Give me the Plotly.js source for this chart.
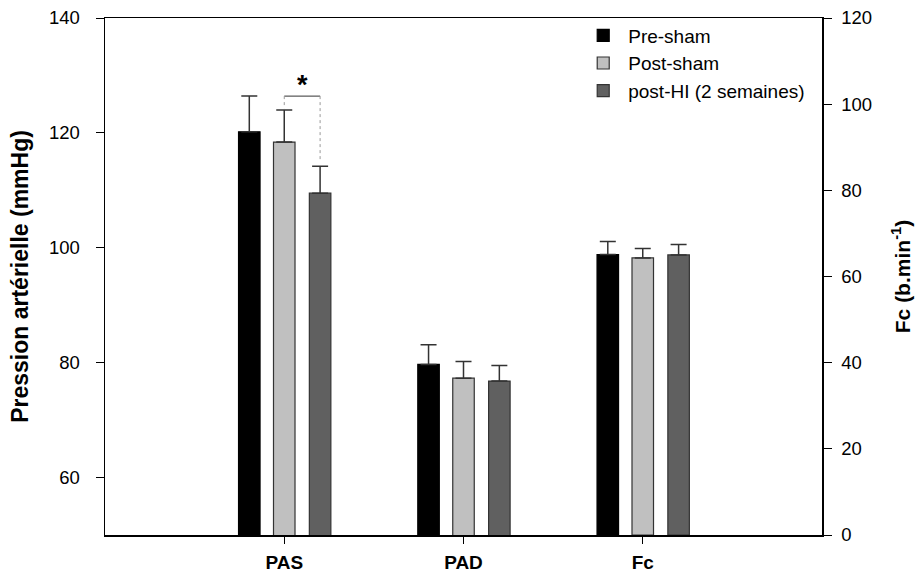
<!DOCTYPE html>
<html>
<head>
<meta charset="utf-8">
<script src="https://cdn.plot.ly/plotly-3.0.1.min.js"></script>
<style>html,body{margin:0;padding:0;background:#fff;}#chart{width:922px;height:579px;}</style>
</head>
<body>
<div id="chart"></div>
<script>
// ---- data ----
const categories = ['PAS', 'PAD', 'Fc'];
const groups = ['Pre-sham', 'Post-sham', 'post-HI (2 semaines)'];
const preSham = [120.2, 79.7, 65.1];
const preShamErr = [6.2, 3.4, 3.0];
const postSham = [118.4, 77.3, 64.3];
const postShamErr = [5.6, 2.9, 2.2];
const postHI = [109.5, 76.8, 65.0];
const postHIErr = [4.7, 2.7, 2.4];
// significance: between group 1 and 2 on category 0
const sigCategory = 0;
const sigGroups = [1, 2];
const sigLabel = '*';

// ---- styles ----
const colors = ['#000000', '#c0c0c0', '#606060'];
const lineColors = ['#000000', '#333333', '#333333'];
const barWidth = 0.12;
const offsets = [-0.255, -0.06, 0.14];
const values = [preSham, postSham, postHI];
const errors = [preShamErr, postShamErr, postHIErr];
const leftCats = [0, 1];   // on left axis
const rightCats = [2];     // on right axis

const traces = [];
groups.forEach((g, i) => {
  const common = {
    type: 'bar', name: g, legendgroup: g,
    width: barWidth, offset: offsets[i],
    marker: {color: colors[i], line: {color: lineColors[i], width: 1.2}},
    hoverinfo: 'x+y'
  };
  traces.push(Object.assign({}, common, {
    x: leftCats.map(k => categories[k]),
    y: leftCats.map(k => values[i][k]),
    error_y: {type: 'data', symmetric: false, array: leftCats.map(k => errors[i][k]),
      arrayminus: leftCats.map(() => 0), color: '#333', thickness: 1.5, width: 8},
    yaxis: 'y', showlegend: true
  }));
  traces.push(Object.assign({}, common, {
    x: rightCats.map(k => categories[k]),
    y: rightCats.map(k => values[i][k]),
    error_y: {type: 'data', symmetric: false, array: rightCats.map(k => errors[i][k]),
      arrayminus: rightCats.map(() => 0), color: '#333', thickness: 1.5, width: 8},
    yaxis: 'y2', showlegend: false
  }));
});

// significance bracket derived from data
const xa = sigCategory + offsets[sigGroups[0]] + barWidth / 2;
const xb = sigCategory + offsets[sigGroups[1]] + barWidth / 2;
const topA = values[sigGroups[0]][sigCategory] + errors[sigGroups[0]][sigCategory];
const topB = values[sigGroups[1]][sigCategory] + errors[sigGroups[1]][sigCategory];
const yBr = Math.max(topA, topB) + 2.4;
const shapes = [
  {type: 'line', xref: 'x', yref: 'y', x0: xa, x1: xb, y0: yBr, y1: yBr, line: {color: '#333', width: 1}},
  {type: 'line', xref: 'x', yref: 'y', x0: xa, x1: xa, y0: yBr, y1: topA + 0.3, line: {color: '#999', width: 1, dash: 'dot'}},
  {type: 'line', xref: 'x', yref: 'y', x0: xb, x1: xb, y0: yBr, y1: topB + 1.2, line: {color: '#999', width: 1, dash: 'dot'}}
];
const font = 'Liberation Sans, Arial, sans-serif';
const annotations = [
  {xref: 'x', yref: 'y', x: (xa + xb) / 2, y: yBr, text: '<b>' + sigLabel + '</b>', showarrow: false,
   yanchor: 'bottom', yshift: -6, font: {family: font, size: 27, color: '#000'}}
];

const layout = {
  width: 922, height: 579,
  margin: {l: 105, r: 100, t: 18, b: 44},
  paper_bgcolor: '#fff', plot_bgcolor: '#fff',
  font: {family: font, size: 18, color: '#000'},
  barmode: 'overlay',
  showlegend: true,
  legend: {x: 0.66, y: 1.003, xanchor: 'left', yanchor: 'top', bgcolor: 'rgba(0,0,0,0)',
    font: {family: font, size: 19, color: '#000'}, tracegroupgap: 0, itemwidth: 40},
  xaxis: {
    type: 'category', range: [-1, 3], showgrid: false, zeroline: false,
    showline: true, linecolor: '#000', linewidth: 1.5, mirror: true,
    ticks: 'outside', ticklen: 7, tickcolor: '#000', tickwidth: 1, ticklabelstandoff: 3,
    tickfont: {family: font, size: 19, color: '#000', weight: 'bold'}
  },
  yaxis: {
    range: [50, 140], tickvals: [60, 80, 100, 120, 140], showgrid: false, zeroline: false,
    showline: true, linecolor: '#000', linewidth: 1.5,
    ticks: 'outside', ticklen: 8, tickcolor: '#000', tickwidth: 1, ticklabelstandoff: 12,
    tickfont: {family: font, size: 18.5, color: '#000'},
    title: {text: 'Pression artérielle (mmHg)', standoff: 14,
      font: {family: font, size: 23, color: '#000', weight: 'bold'}}
  },
  yaxis2: {
    overlaying: 'y', side: 'right', range: [0, 120], tickvals: [0, 20, 40, 60, 80, 100, 120],
    showgrid: false, zeroline: false, showline: true, linecolor: '#000', linewidth: 1.5,
    ticks: 'outside', ticklen: 8, tickcolor: '#000', tickwidth: 1, ticklabelstandoff: 6,
    tickfont: {family: font, size: 18.5, color: '#000'},
    title: {text: 'Fc (b.min<sup>-1</sup>)', standoff: 24,
      font: {family: font, size: 21, color: '#000', weight: 'bold'}}
  },
  shapes: shapes,
  annotations: annotations
};

Plotly.newPlot('chart', traces, layout, {displayModeBar: false, staticPlot: true});
</script>
</body>
</html>
